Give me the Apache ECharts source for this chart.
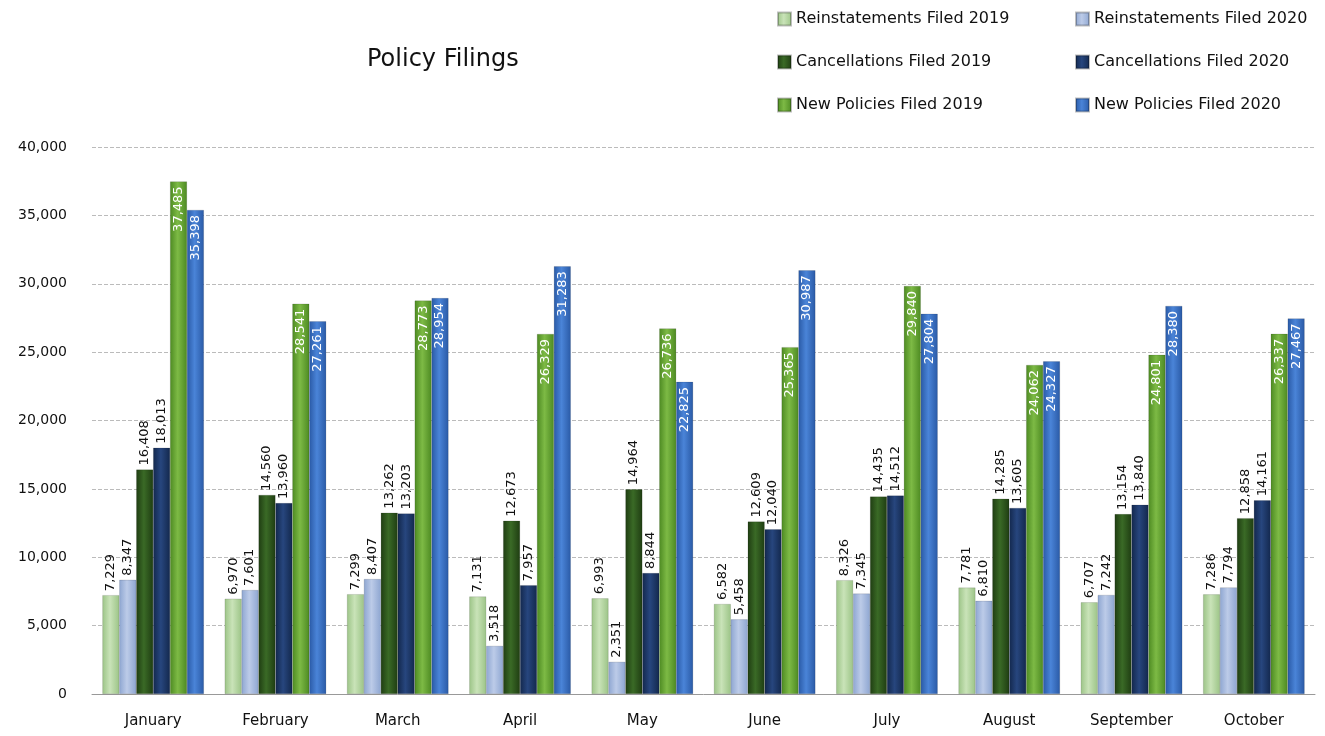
<!DOCTYPE html>
<html><head><meta charset="utf-8">
<script src="https://cdn.jsdelivr.net/npm/echarts@6/dist/echarts.min.js"></script>
<style>html,body{margin:0;padding:0;background:#fff}#c{width:1325px;height:736px}</style>
</head><body><div id="c"></div>
<script>
const months = ['January','February','March','April','May','June','July','August','September','October'];
const reinst2019 = [7229, 6970, 7299, 7131, 6993, 6582, 8326, 7781, 6707, 7286];
const reinst2020 = [8347, 7601, 8407, 3518, 2351, 5458, 7345, 6810, 7242, 7794];
const cancel2019 = [16408, 14560, 13262, 12673, 14964, 12609, 14435, 14285, 13154, 12858];
const cancel2020 = [18013, 13960, 13203, 7957, 8844, 12040, 14512, 13605, 13840, 14161];
const new2019 = [37485, 28541, 28773, 26329, 26736, 25365, 29840, 24062, 24801, 26337];
const new2020 = [35398, 27261, 28954, 31283, 22825, 30987, 27804, 24327, 28380, 27467];
const seriesNames = ['Reinstatements Filed 2019','Reinstatements Filed 2020','Cancellations Filed 2019','Cancellations Filed 2020','New Policies Filed 2019','New Policies Filed 2020'];

const FONT = 'DejaVu Sans';
function grad(edge, mid){
  return {type:'linear',x:0,y:0,x2:1,y2:0,colorStops:[
    {offset:0,color:edge},{offset:0.45,color:mid},{offset:1,color:edge}]};
}
const colors = [
  grad('#9cc487','#c9e3b8'),
  grad('#8ea6d1','#bccbe8'),
  grad('#1f3d12','#3a6a26'),
  grad('#13284d','#27467e'),
  grad('#4d8a22','#7dba45'),
  grad('#2a5aa6','#4a84d8')
];
const legendColors = ['#a9d08e','#a2b8df','#2e5a1d','#1f3864','#6aa532','#3a6fc4'];
const fmt = p => p.value.toLocaleString('en-US');
const outLabel = {show:true,position:'top',rotate:90,align:'left',verticalAlign:'middle',distance:4,
  color:'#111',fontFamily:FONT,fontSize:13,formatter:fmt};
const inLabel = {show:true,position:'insideTop',rotate:90,align:'right',verticalAlign:'middle',distance:5,
  color:'#ffffff',fontFamily:FONT,fontSize:13,formatter:fmt};
const datas = [reinst2019,reinst2020,cancel2019,cancel2020,new2019,new2020];
const series = datas.map((d,i)=>({
  name:seriesNames[i], type:'bar', data:d, barGap:'0%', barCategoryGap:'17%',
  itemStyle:{color:colors[i], borderColor:'rgba(0,0,0,0.25)', borderWidth:0.5},
  label: i>=4 ? inLabel : outLabel
}));
const legendText = {fontFamily:FONT,fontSize:16,color:'#111'};
const chart = echarts.init(document.getElementById('c'));
chart.setOption({
  animation:false,
  color: legendColors,
  title:{text:'Policy Filings',left:362,top:43,textStyle:{fontFamily:FONT,fontSize:24,fontWeight:'normal',color:'#111'}},
  legend:[
    {data:seriesNames.filter((_,i)=>i%2===0),orient:'vertical',left:772,top:6,itemGap:27,itemWidth:13,itemHeight:13,
     textStyle:legendText,icon:'rect'},
    {data:seriesNames.filter((_,i)=>i%2===1),orient:'vertical',left:1070,top:6,itemGap:27,itemWidth:13,itemHeight:13,
     textStyle:legendText,icon:'rect'}
  ],
  grid:{left:92,right:10,top:147,bottom:42,containLabel:false},
  xAxis:{type:'category',data:months,axisTick:{show:false},
    axisLine:{lineStyle:{color:'#999'}},
    axisLabel:{fontFamily:FONT,fontSize:15,color:'#111',margin:20}},
  yAxis:{type:'value',min:0,max:40000,interval:5000,
    axisLabel:{fontFamily:FONT,fontSize:14,color:'#111',margin:25,formatter:v=>v.toLocaleString('en-US')},
    splitLine:{lineStyle:{color:'#bbb',type:'dashed'}}},
  series
});
</script></body></html>
